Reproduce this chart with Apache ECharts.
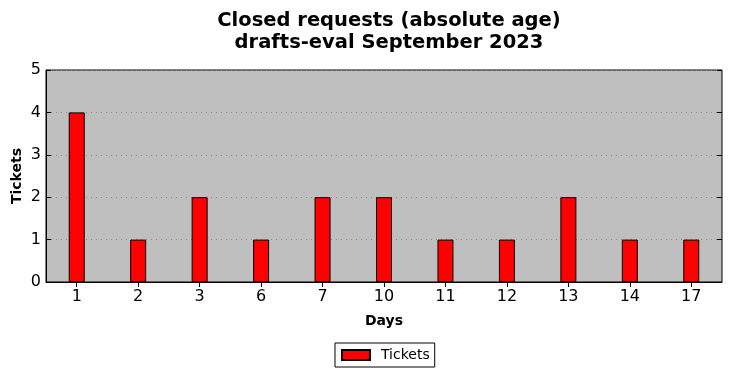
<!DOCTYPE html>
<html>
<head>
<meta charset="utf-8">
<script src="https://cdn.jsdelivr.net/npm/echarts@6/dist/echarts.min.js"></script>
<style>html,body{margin:0;padding:0;background:#fff;}#c{width:732px;height:378px;}</style>
</head>
<body>
<div id="c"></div>
<script>
var categories = ['1','2','3','6','7','10','11','12','13','14','17'];
var tickets = [4,1,2,1,2,2,1,1,2,1,1];
var yTicks = [0,1,2,3,4,5];

var chart = echarts.init(document.getElementById('c'), null, {renderer:'canvas'});
var font = 'DejaVu Sans';
chart.setOption({
  animation: false,
  backgroundColor: '#ffffff',
  title: {
    text: 'Closed requests (absolute age)\ndrafts-eval September 2023',
    left: 384, top: 5, textAlign: 'center',
    textStyle: {fontFamily: font, fontWeight: 'bold', fontSize: 19.5, color: '#000', lineHeight: 22}
  },
  legend: {
    left: 335, top: 343,
    data: ['Tickets'],
    itemWidth: 28, itemHeight: 10, itemGap: 10,
    padding: [5, 5, 5, 6],
    borderColor: '#000', borderWidth: 1, borderRadius: 0,
    textStyle: {fontFamily: font, fontSize: 14, color: '#000', padding: [0, 0, 0, 6]},
    icon: 'rect'
  },
  grid: {
    left: 46, right: 10, top: 70, bottom: 96,
    outerBoundsMode: 'none', containLabel: false,
    show: true, backgroundColor: '#bfbfbf', borderColor: '#000', borderWidth: 1
  },
  xAxis: [{
    type: 'category', data: categories, boundaryGap: true,
    name: 'Days', nameLocation: 'middle', nameGap: 32, nameMoveOverlap: false,
    nameTextStyle: {fontFamily: font, fontWeight: 'bold', fontSize: 14, color: '#000'},
    axisLine: {show: true, lineStyle: {color: '#000'}},
    axisTick: {show: true, inside: true, alignWithLabel: true, length: 5, lineStyle: {color: '#000'}},
    axisLabel: {fontFamily: font, fontSize: 16, color: '#000', margin: 7},
    splitLine: {show: false}
  }, {
    type: 'category', data: categories, position: 'top', boundaryGap: true,
    axisLine: {show: false},
    axisTick: {show: true, inside: true, alignWithLabel: true, length: 5, lineStyle: {color: '#000'}},
    axisLabel: {show: false}
  }],
  yAxis: [{
    type: 'value', min: 0, max: 5, interval: 1,
    name: 'Tickets', nameLocation: 'middle', nameGap: 22, nameMoveOverlap: false,
    nameTextStyle: {fontFamily: font, fontWeight: 'bold', fontSize: 14, color: '#000'},
    axisLine: {show: true, lineStyle: {color: '#000'}},
    axisTick: {show: true, inside: true, length: 5, lineStyle: {color: '#000'}},
    axisLabel: {fontFamily: font, fontSize: 16, color: '#000', margin: 5,
      formatter: function(v){ return yTicks.indexOf(v) >= 0 ? String(v) : ''; }},
    splitLine: {show: true, lineStyle: {color: '#8a8a8a', type: [1, 4], width: 1}}
  }, {
    type: 'value', min: 0, max: 5, interval: 1, position: 'right',
    axisLine: {show: false},
    axisTick: {show: true, inside: true, length: 5, lineStyle: {color: '#000'}},
    axisLabel: {show: false},
    splitLine: {show: false}
  }],
  series: [{
    name: 'Tickets', type: 'bar', data: tickets, barWidth: 16,
    itemStyle: {color: '#ff0000', borderColor: '#000', borderWidth: 1}
  }]
});
</script>
</body>
</html>
